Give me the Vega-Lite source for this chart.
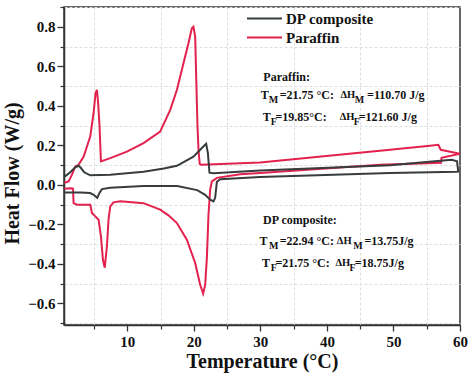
{
  "$schema": "https://vega.github.io/schema/vega-lite/v6.json",
  "width": 396,
  "height": 318,
  "autosize": {"type": "none"},
  "padding": {"left": 64, "top": 7, "right": 14, "bottom": 56},
  "background": "white",
  "config": {
    "view": {"stroke": "#333333", "strokeWidth": 1.5},
    "font": "Times New Roman"
  },
  "resolve": {"axis": {"x": "independent", "y": "independent"}},
  "datasets": {
    "curves": [
      {"s": "Paraffin", "i": 1, "x": 0.54, "y": 0.010},
      {"s": "Paraffin", "i": 2, "x": 1.19, "y": 0.017},
      {"s": "Paraffin", "i": 3, "x": 1.70, "y": 0.051},
      {"s": "Paraffin", "i": 4, "x": 2.19, "y": 0.093},
      {"s": "Paraffin", "i": 5, "x": 2.69, "y": 0.101},
      {"s": "Paraffin", "i": 6, "x": 3.44, "y": 0.142},
      {"s": "Paraffin", "i": 7, "x": 4.44, "y": 0.244},
      {"s": "Paraffin", "i": 8, "x": 4.94, "y": 0.362},
      {"s": "Paraffin", "i": 9, "x": 5.24, "y": 0.464},
      {"s": "Paraffin", "i": 10, "x": 5.45, "y": 0.480},
      {"s": "Paraffin", "i": 11, "x": 5.65, "y": 0.404},
      {"s": "Paraffin", "i": 12, "x": 5.84, "y": 0.295},
      {"s": "Paraffin", "i": 13, "x": 6.05, "y": 0.118},
      {"s": "Paraffin", "i": 14, "x": 7.45, "y": 0.135},
      {"s": "Paraffin", "i": 15, "x": 9.95, "y": 0.168},
      {"s": "Paraffin", "i": 16, "x": 12.45, "y": 0.211},
      {"s": "Paraffin", "i": 17, "x": 14.95, "y": 0.269},
      {"s": "Paraffin", "i": 18, "x": 16.46, "y": 0.379},
      {"s": "Paraffin", "i": 19, "x": 17.46, "y": 0.480},
      {"s": "Paraffin", "i": 20, "x": 18.45, "y": 0.615},
      {"s": "Paraffin", "i": 21, "x": 19.20, "y": 0.716},
      {"s": "Paraffin", "i": 22, "x": 19.71, "y": 0.792},
      {"s": "Paraffin", "i": 23, "x": 19.95, "y": 0.800},
      {"s": "Paraffin", "i": 24, "x": 20.21, "y": 0.750},
      {"s": "Paraffin", "i": 25, "x": 20.36, "y": 0.548},
      {"s": "Paraffin", "i": 26, "x": 20.56, "y": 0.295},
      {"s": "Paraffin", "i": 27, "x": 20.71, "y": 0.177},
      {"s": "Paraffin", "i": 28, "x": 20.89, "y": 0.106},
      {"s": "Paraffin", "i": 29, "x": 21.11, "y": 0.101},
      {"s": "Paraffin", "i": 30, "x": 29.97, "y": 0.113},
      {"s": "Paraffin", "i": 31, "x": 49.49, "y": 0.177},
      {"s": "Paraffin", "i": 32, "x": 55.50, "y": 0.197},
      {"s": "Paraffin", "i": 33, "x": 56.74, "y": 0.202},
      {"s": "Paraffin", "i": 34, "x": 57.10, "y": 0.177},
      {"s": "Paraffin", "i": 35, "x": 60.00, "y": 0.157},
      {"s": "Paraffin", "i": 36, "x": 57.22, "y": 0.137},
      {"s": "Paraffin", "i": 37, "x": 57.15, "y": 0.111},
      {"s": "Paraffin", "i": 38, "x": 47.99, "y": 0.101},
      {"s": "Paraffin", "i": 39, "x": 29.97, "y": 0.059},
      {"s": "Paraffin", "i": 40, "x": 26.97, "y": 0.053},
      {"s": "Paraffin", "i": 41, "x": 23.47, "y": 0.035},
      {"s": "Paraffin", "i": 42, "x": 22.72, "y": 0.017},
      {"s": "Paraffin", "i": 43, "x": 22.46, "y": -0.025},
      {"s": "Paraffin", "i": 44, "x": 22.21, "y": -0.152},
      {"s": "Paraffin", "i": 45, "x": 21.97, "y": -0.369},
      {"s": "Paraffin", "i": 46, "x": 21.71, "y": -0.506},
      {"s": "Paraffin", "i": 47, "x": 21.41, "y": -0.551},
      {"s": "Paraffin", "i": 48, "x": 20.96, "y": -0.506},
      {"s": "Paraffin", "i": 49, "x": 20.21, "y": -0.396},
      {"s": "Paraffin", "i": 50, "x": 18.96, "y": -0.278},
      {"s": "Paraffin", "i": 51, "x": 17.46, "y": -0.194},
      {"s": "Paraffin", "i": 52, "x": 16.20, "y": -0.155},
      {"s": "Paraffin", "i": 53, "x": 14.95, "y": -0.126},
      {"s": "Paraffin", "i": 54, "x": 12.45, "y": -0.093},
      {"s": "Paraffin", "i": 55, "x": 8.95, "y": -0.084},
      {"s": "Paraffin", "i": 56, "x": 7.94, "y": -0.089},
      {"s": "Paraffin", "i": 57, "x": 7.45, "y": -0.110},
      {"s": "Paraffin", "i": 58, "x": 7.19, "y": -0.177},
      {"s": "Paraffin", "i": 59, "x": 6.95, "y": -0.312},
      {"s": "Paraffin", "i": 60, "x": 6.62, "y": -0.420},
      {"s": "Paraffin", "i": 61, "x": 6.35, "y": -0.379},
      {"s": "Paraffin", "i": 62, "x": 6.05, "y": -0.261},
      {"s": "Paraffin", "i": 63, "x": 5.69, "y": -0.177},
      {"s": "Paraffin", "i": 64, "x": 5.20, "y": -0.160},
      {"s": "Paraffin", "i": 65, "x": 4.70, "y": -0.143},
      {"s": "Paraffin", "i": 66, "x": 4.44, "y": -0.101},
      {"s": "Paraffin", "i": 67, "x": 2.45, "y": -0.101},
      {"s": "Paraffin", "i": 68, "x": 1.94, "y": -0.093},
      {"s": "Paraffin", "i": 69, "x": 1.85, "y": -0.020},
      {"s": "Paraffin", "i": 70, "x": 1.44, "y": -0.018},
      {"s": "Paraffin", "i": 71, "x": 0.54, "y": -0.020},
      {"s": "DP composite", "i": 1, "x": 0.54, "y": 0.040},
      {"s": "DP composite", "i": 2, "x": 1.44, "y": 0.063},
      {"s": "DP composite", "i": 3, "x": 2.19, "y": 0.088},
      {"s": "DP composite", "i": 4, "x": 2.69, "y": 0.096},
      {"s": "DP composite", "i": 5, "x": 3.02, "y": 0.086},
      {"s": "DP composite", "i": 6, "x": 3.54, "y": 0.063},
      {"s": "DP composite", "i": 7, "x": 4.44, "y": 0.048},
      {"s": "DP composite", "i": 8, "x": 7.45, "y": 0.051},
      {"s": "DP composite", "i": 9, "x": 12.45, "y": 0.066},
      {"s": "DP composite", "i": 10, "x": 15.50, "y": 0.082},
      {"s": "DP composite", "i": 11, "x": 17.46, "y": 0.096},
      {"s": "DP composite", "i": 12, "x": 19.95, "y": 0.142},
      {"s": "DP composite", "i": 13, "x": 21.22, "y": 0.186},
      {"s": "DP composite", "i": 14, "x": 21.86, "y": 0.207},
      {"s": "DP composite", "i": 15, "x": 22.12, "y": 0.160},
      {"s": "DP composite", "i": 16, "x": 22.36, "y": 0.061},
      {"s": "DP composite", "i": 17, "x": 22.96, "y": 0.058},
      {"s": "DP composite", "i": 18, "x": 29.97, "y": 0.072},
      {"s": "DP composite", "i": 19, "x": 49.49, "y": 0.099},
      {"s": "DP composite", "i": 20, "x": 58.75, "y": 0.126},
      {"s": "DP composite", "i": 21, "x": 59.55, "y": 0.119},
      {"s": "DP composite", "i": 22, "x": 59.74, "y": 0.067},
      {"s": "DP composite", "i": 23, "x": 59.50, "y": 0.066},
      {"s": "DP composite", "i": 24, "x": 49.49, "y": 0.059},
      {"s": "DP composite", "i": 25, "x": 29.97, "y": 0.039},
      {"s": "DP composite", "i": 26, "x": 23.96, "y": 0.028},
      {"s": "DP composite", "i": 27, "x": 23.47, "y": 0.015},
      {"s": "DP composite", "i": 28, "x": 23.21, "y": -0.066},
      {"s": "DP composite", "i": 29, "x": 22.96, "y": -0.084},
      {"s": "DP composite", "i": 30, "x": 22.46, "y": -0.076},
      {"s": "DP composite", "i": 31, "x": 21.71, "y": -0.051},
      {"s": "DP composite", "i": 32, "x": 20.51, "y": -0.027},
      {"s": "DP composite", "i": 33, "x": 17.51, "y": -0.006},
      {"s": "DP composite", "i": 34, "x": 12.40, "y": -0.006},
      {"s": "DP composite", "i": 35, "x": 7.45, "y": -0.015},
      {"s": "DP composite", "i": 36, "x": 6.20, "y": -0.022},
      {"s": "DP composite", "i": 37, "x": 5.85, "y": -0.040},
      {"s": "DP composite", "i": 38, "x": 5.50, "y": -0.066},
      {"s": "DP composite", "i": 39, "x": 5.05, "y": -0.053},
      {"s": "DP composite", "i": 40, "x": 4.44, "y": -0.042},
      {"s": "DP composite", "i": 41, "x": 2.94, "y": -0.039},
      {"s": "DP composite", "i": 42, "x": 0.54, "y": -0.039}
    ],
    "notes": [
      {"x": 30.45, "y": 0.546, "label": "Paraffin:"},
      {"x": 30.07, "y": 0.455, "label": "T"},
      {"x": 32.90, "y": 0.455, "label": "=21.75 °C:"},
      {"x": 46.04, "y": 0.455, "label": "=110.70  J/g"},
      {"x": 30.35, "y": 0.344, "label": "T"},
      {"x": 32.26, "y": 0.344, "label": "=19.85°C:"},
      {"x": 44.78, "y": 0.344, "label": "=121.60 J/g"},
      {"x": 30.41, "y": -0.177, "label": "DP composite:"},
      {"x": 29.89, "y": -0.287, "label": "T"},
      {"x": 32.90, "y": -0.287, "label": "=22.94 °C:"},
      {"x": 45.64, "y": -0.287, "label": "=13.75J/g"},
      {"x": 30.26, "y": -0.396, "label": "T"},
      {"x": 32.26, "y": -0.396, "label": "=21.75 °C:"},
      {"x": 44.18, "y": -0.396, "label": "=18.75J/g"}
    ],
    "deltas": [
      {"x": 42.03, "y": 0.455, "label": "ΔH"},
      {"x": 41.93, "y": 0.344, "label": "ΔH"},
      {"x": 41.50, "y": -0.287, "label": "ΔH"},
      {"x": 41.28, "y": -0.396, "label": "ΔH"}
    ],
    "subs": [
      {"x": 31.25, "y": 0.430, "label": "M"},
      {"x": 44.18, "y": 0.430, "label": "M"},
      {"x": 31.55, "y": 0.319, "label": "F"},
      {"x": 44.03, "y": 0.319, "label": "F"},
      {"x": 31.30, "y": -0.311, "label": "M"},
      {"x": 43.95, "y": -0.311, "label": "M"},
      {"x": 31.55, "y": -0.420, "label": "F"},
      {"x": 43.38, "y": -0.420, "label": "F"}
    ]
  },
  "layer": [
    {
      "data": {"name": "curves"},
      "mark": {"type": "line", "strokeWidth": 2, "clip": true},
      "encoding": {
        "x": {
          "field": "x", "type": "quantitative",
          "scale": {"domain": [0.5, 60], "nice": false, "zero": false},
          "axis": {
            "orient": "bottom",
            "title": "Temperature (°C)",
            "values": [10, 20, 30, 40, 50, 60],
            "labelFont": "Times New Roman", "labelFontSize": 15, "labelFontWeight": "bold", "labelColor": "#111111",
            "labelFlush": false, "labelOverlap": false, "labelPadding": 3,
            "tickSize": 6, "tickColor": "#333333", "tickWidth": 1.3,
            "domainColor": "#333333", "domainWidth": 1.5,
            "grid": false,
            "titleFont": "Times New Roman", "titleFontSize": 20, "titleFontWeight": "bold", "titleColor": "#111111", "titlePadding": 2
          }
        },
        "y": {
          "field": "y", "type": "quantitative",
          "scale": {"domain": [-0.71, 0.9], "nice": false, "zero": false},
          "axis": {
            "orient": "left",
            "title": "Heat Flow (W/g)",
            "values": [-0.6, -0.4, -0.2, 0, 0.2, 0.4, 0.6, 0.8],
            "format": ".1f",
            "labelFont": "Times New Roman", "labelFontSize": 15, "labelFontWeight": "bold", "labelColor": "#111111",
            "labelFlush": false, "labelOverlap": false, "labelPadding": 2,
            "tickSize": 7, "tickColor": "#333333", "tickWidth": 1.3,
            "domainColor": "#333333", "domainWidth": 1.5,
            "grid": false,
            "titleY": 166,
            "titleFont": "Times New Roman", "titleFontSize": 20, "titleFontWeight": "bold", "titleColor": "#111111", "titlePadding": 5
          }
        },
        "color": {
          "field": "s", "type": "nominal",
          "scale": {"domain": ["DP composite", "Paraffin"], "range": ["#373c3c", "#e2214e"]},
          "legend": {
            "title": null, "orient": "none", "legendX": 193, "legendY": 4,
            "symbolType": "M-3.5,0H3.5", "symbolSize": 100, "symbolStrokeWidth": 2, "symbolFillColor": "transparent",
            "labelFont": "Times New Roman", "labelFontSize": 15, "labelFontWeight": "bold", "labelColor": "#111111",
            "labelOffset": 14, "rowPadding": 3
          }
        },
        "order": {"field": "i", "type": "quantitative"}
      }
    },
    {
      "data": {"name": "notes"},
      "mark": {"type": "text", "align": "left", "baseline": "middle", "font": "Times New Roman", "fontSize": 12, "fontWeight": "bold", "color": "#111111"},
      "encoding": {
        "x": {
          "field": "x", "type": "quantitative",
          "axis": {
            "orient": "bottom", "title": null, "values": [5, 15, 25, 35, 45, 55],
            "labels": false, "domain": false, "tickSize": 4, "tickColor": "#333333", "tickWidth": 1.2,
            "grid": true, "gridColor": "#dedede", "gridDash": [3, 2], "gridWidth": 1
          }
        },
        "y": {
          "field": "y", "type": "quantitative",
          "axis": {
            "orient": "left", "title": null, "values": [-0.7, -0.5, -0.3, -0.1, 0.1, 0.3, 0.5, 0.7, 0.9],
            "labels": false, "domain": false, "tickSize": 4, "tickColor": "#333333", "tickWidth": 1.2,
            "grid": true, "gridColor": "#dedede", "gridDash": [3, 2], "gridWidth": 1
          }
        },
        "text": {"field": "label"}
      }
    },
    {
      "data": {"name": "deltas"},
      "mark": {"type": "text", "align": "left", "baseline": "middle", "font": "Times New Roman", "fontSize": 10.5, "fontWeight": "bold", "color": "#111111"},
      "encoding": {
        "x": {"field": "x", "type": "quantitative", "axis": null},
        "y": {"field": "y", "type": "quantitative", "axis": null},
        "text": {"field": "label"}
      }
    },
    {
      "data": {"name": "subs"},
      "mark": {"type": "text", "align": "left", "baseline": "middle", "font": "Times New Roman", "fontSize": 10, "fontWeight": "bold", "color": "#111111"},
      "encoding": {
        "x": {"field": "x", "type": "quantitative", "axis": null},
        "y": {"field": "y", "type": "quantitative", "axis": null},
        "text": {"field": "label"}
      }
    }
  ]
}
